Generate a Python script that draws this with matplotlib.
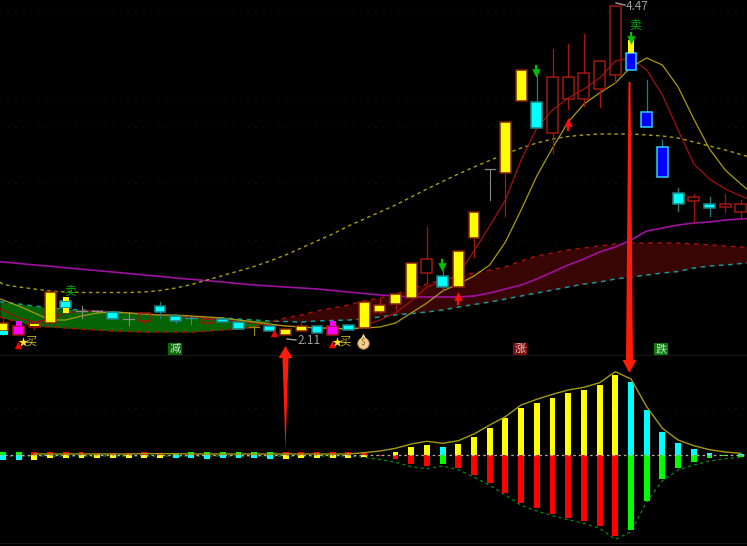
import matplotlib
matplotlib.use('Agg')
import matplotlib.pyplot as plt
import numpy as np

plt.rcParams['font.family'] = ['Noto Sans CJK SC', 'DejaVu Sans']

# все значения - строки пикселей верхней панели
body_top = [323, 326, 323, 292, 301, 311, 311, 312, 319, 313, 306, 316, 318, 319, 319, 322, 327, 326, 329, 326,
            326, 326, 325, 302, 305, 294, 263, 259, 276, 251, 212, 169, 122, 70, 102, 77, 77, 73, 61, 6,
            53, 112, 147, 193, 197, 204, 204, 204]
body_bot = [331, 335, 327, 323, 308, 312, 312, 319, 320, 321, 312, 321, 319, 323, 322, 329, 328, 331, 335, 331,
            333, 335, 330, 328, 312, 304, 298, 273, 287, 287, 238, 170, 173, 101, 128, 133, 99, 99, 89, 75,
            70, 127, 177, 204, 201, 208, 207, 212]
wick_hi = [318, 326, 323, 292, 297, 306, 310, 312, 313, 313, 302, 316, 316, 319, 319, 322, 326, 326, 329, 322,
           326, 321, 325, 302, 299, 294, 263, 227, 270, 251, 212, 169, 122, 70, 75, 49, 44, 34, 61, 6,
           40, 80, 140, 188, 194, 197, 194, 200]
wick_lo = [335, 335, 329, 323, 313, 318, 313, 319, 325, 323, 318, 323, 324, 326, 322, 329, 335, 331, 335, 331,
           333, 335, 330, 328, 313, 309, 298, 283, 290, 287, 257, 200, 216, 101, 128, 153, 109, 106, 107, 83,
           70, 127, 177, 211, 222, 216, 212, 219]
kinds = ['Y', 'M', 'H', 'Y', 'C', 'X', 'X', 'C', 'X', 'H', 'C', 'C', 'T', 'H', 'C', 'C', 'O', 'C', 'Y', 'Y',
         'C', 'M', 'C', 'Y', 'Y', 'Y', 'Y', 'H', 'C', 'Y', 'Y', 'X', 'Y', 'Y', 'C', 'H', 'H', 'H', 'H', 'H',
         'B', 'B', 'B', 'C', 'H', 'C', 'H', 'H']

# первая точка - левый край окна, дальше бары с нулевого
ma_purple = [261.8, 262, 263.4, 265, 266.3, 267.8, 269.2, 270.6, 272, 273.5, 275, 276.4, 278, 279.3, 280.7, 282,
             283.6, 285, 286, 287, 288, 289, 290.5, 292, 293.5, 295, 296, 297, 297, 297, 297, 296, 293, 289, 285,
             279, 272, 265, 259, 252, 247, 240, 231, 228, 225, 223, 222, 220, 219, 218]
ma_long = [282, 284.5, 287, 289, 291, 292, 292.5, 292.5, 292.5, 292.5, 292, 290.5, 288, 284.5, 280, 275.5, 271,
           266.5, 261, 255, 248, 241, 234, 226, 219, 212, 205, 197, 189, 181.5, 174, 167, 160.5, 154, 148, 143,
           139, 136.5, 135, 134, 134, 134, 135, 136, 138, 142, 146, 150, 154.5, 159]
ma_red = [309, 310, 318, 322, 319, 313, 311, 311, 312, 313, 314, 315, 316, 317, 318, 319.5, 321, 323, 325, 326,
          327, 328, 329, 329, 326, 320, 313, 301, 287, 281, 275, 251, 226, 200, 160, 128, 110, 98, 89, 78, 61,
          58, 70, 95, 130, 164, 179, 189, 196, 202]
ma_yellow = [299, 300, 306, 313, 320, 320, 316, 313, 312, 313, 314, 315, 315, 316, 317, 318, 320, 322, 324, 326,
             327, 328, 328, 329, 328, 327, 323, 313, 303, 291, 284, 276, 265, 242, 210, 176, 148, 122, 104, 93,
             83, 67, 58, 65, 87, 119, 149, 170, 184, 197]
band_cyan = [301.5, 302, 304, 306, 308, 309, 310, 311, 312, 313, 314, 315, 316, 317, 317.5, 318, 319, 320, 321,
             321.5, 322, 321, 320.5, 320, 319, 317, 315, 313.5, 312, 310, 307, 304.5, 302, 299, 296, 293, 290,
             287, 284, 282, 279, 277, 275, 273, 271.5, 268, 266, 265, 263.5, 262]
band_red = [317, 318, 322, 326, 327, 328, 329, 330, 331, 331.5, 332, 332, 332, 332, 331, 330, 329, 327, 322, 318,
            315, 311, 308, 305, 301, 298, 294, 289, 284, 280, 276, 273, 270, 267, 261, 256, 253, 250, 248, 246,
            244, 243, 243, 243, 243, 244, 245, 246, 247, 247.5]

# нижняя панель, пиксели от нулевой линии
macd_up = [-5, -5, -5, -3, -3, -3, -3, -3, -3, -2.5, -3, -3, -3, -4, -3, -3, -3, -4, -4, -2.5, -2.5, -2.5, -2.5,
           -2, 0, 3.3, 8.3, 9.7, 8, 11.3, 18.3, 27.3, 36.7, 47, 51.7, 57.3, 62, 65.3, 70, 80, 73, 45.3, 23, 12,
           5.7, 2.3, 0, 1.3]
macd_dn = [3.3, 3, 3.5, 3.5, 3, 3, 2.5, 2.5, 2.5, 3, 2.5, 1.5, 3, 3, 3, 3.5, 3.5, 3.5, 3.5, 3, 3, 3, 3, 2, -1,
           -4, -9.3, -11, -9.3, -12.7, -19.7, -27.7, -38, -48.3, -53, -58.7, -62.7, -66, -71.3, -80.7, -74.7,
           -46, -24.3, -13.3, -7, -3, -1.3, -2.3]
macd_cold = [1, 1, 0, 0, 0, 0, 0, 0, 0, 0, 0, 1, 1, 1, 1, 1, 1, 1, 0, 0, 0, 0, 0, 0, 0,
             0, 0, 0, 1, 0, 0, 0, 0, 0, 0, 0, 0, 0, 0, 0, 1, 1, 1, 1, 1, 1, 1, 1]
env_top = [1, 1, 1, 1, 1, 1, 1, 1, 1, 1.3, 1.3, 1.3, 1, 1, 1, 1, 1, 1, 1, 1, 1, 1, 1, 2.3, 4,
           6.7, 11, 13.7, 11.7, 14.3, 21, 30, 38.3, 50, 55.7, 60.7, 65, 67.7, 72.3, 83.3, 76, 48.3, 26.7, 15,
           9.3, 5.3, 3, 1.7]
env_bot = [1, 1, 1, 1, 1, 1, 1, 1, 1, 1, 1, 1, 1, 1, 1, 1, 1, 1, 1, 1, 1, 1, 1, 2.3, 4.5,
           7.3, 11.7, 13.7, 11, 14.7, 22.3, 30.3, 40, 50.3, 56, 60.7, 64.7, 68.3, 73.3, 84.3, 76.7, 46.7, 25.7,
           15, 10, 6, 3.7, 2.3]

STEP = 15.7
ZERO = 455
RED_EDGE = '#a01810'
bars = np.arange(len(body_top))
lines_x = np.arange(len(ma_red)) - 3 / STEP
lines_x[1:] = np.arange(len(ma_red) - 1)


def px(x):
    return (x - 3) / STEP


fig = plt.figure(figsize=(7.47, 5.46), dpi=100, facecolor='black')
ax = fig.add_axes([0, 0, 1, 1], facecolor='black')
ax.set_xlim(-3 / STEP, 744 / STEP)
ax.set_ylim(546, 0)
ax.axis('off')

# слабая сетка и разделители
for row in [12, 98, 127, 183, 240, 408]:
    ax.axhline(row, color='#202020', lw=0.6, ls=(0, (1, 8)), zorder=1)
ax.axhline(355, color='#161616', lw=0.8, zorder=1)
ax.axhline(543, color='#161616', lw=0.8, zorder=1)

# лента
cy = np.array(band_cyan)
rd = np.array(band_red)
ax.fill_between(lines_x, cy, rd, where=rd >= cy, interpolate=True, color='#056405', lw=0, zorder=2)
ax.fill_between(lines_x, cy, rd, where=rd <= cy, interpolate=True, color='#380404', lw=0, zorder=2)
ax.plot(lines_x, band_cyan, color='#119a9a', lw=1.1, ls=(0, (3, 3)), zorder=3)
ax.plot(lines_x, band_red, color='#a80c0c', lw=1.1, ls=(0, (3, 3)), zorder=3)

ax.plot(lines_x, ma_purple, color='#a010a0', lw=1.2, zorder=4)
ax.plot(lines_x, ma_long, color='#a8a010', lw=1.0, ls=(0, (2.5, 2.5)), zorder=4)
ax.plot(lines_x, ma_red, color='#a01010', lw=0.9, zorder=4)
ax.plot(lines_x, ma_yellow, color='#a89a10', lw=0.9, zorder=4)

# свечи
face = {'Y': '#ffff00', 'C': '#00ffff', 'B': '#0000ff', 'M': '#ff00ff', 'H': 'none'}
edge = {'Y': '#8a2010', 'C': '#208080', 'B': '#30d0ff', 'M': '#a01810', 'H': RED_EDGE}
wick = {'Y': RED_EDGE, 'C': '#208080', 'B': '#208080', 'M': '#ff00ff', 'H': RED_EDGE}
cross = {'X': '#8a8a8a', 'T': '#1a9a9a', 'O': '#9a8a10'}
for i, k in enumerate(kinds):
    if k in cross:
        ax.plot([i, i], [wick_hi[i], wick_lo[i]], color=cross[k], lw=0.8, zorder=5)
        ax.plot([i - 0.33, i + 0.33], [body_top[i], body_top[i]], color=cross[k], lw=0.9, zorder=5)
        continue
    ax.plot([i, i], [wick_hi[i], body_top[i]], color=wick[k], lw=0.9, zorder=5)
    ax.plot([i, i], [body_bot[i], wick_lo[i]], color=wick[k], lw=0.9, zorder=5)
    ax.bar(i, body_bot[i] - body_top[i], bottom=body_top[i], width=0.7, color=face[k],
           edgecolor=edge[k], lw=1.1, zorder=6)

# вставки поверх свечей
stub_x = [0, 4, 4, 1, 21, 40, 2]
stub_top = [331, 297, 308, 321, 321, 40, 324]
stub_bot = [335, 301, 313, 326, 326, 53, 326]
stub_col = ['#00ffff', '#ffff00', '#ffff00', '#ff00ff', '#ff00ff', '#ffff00', '#ffff00']
stub_w = [0.7, 0.35, 0.35, 0.4, 0.4, 0.4, 0.6]
ax.bar(stub_x, np.array(stub_bot) - np.array(stub_top), bottom=stub_top, width=stub_w, color=stub_col,
       lw=0, zorder=7)

# нижняя панель
up_col = ['#00ffff' if c else '#ffff00' for c in macd_cold]
dn_col = ['#00ff00' if c else '#ff0000' for c in macd_cold]
ax.bar(bars, -np.array(macd_up), bottom=ZERO, width=0.38, color=up_col, lw=0, zorder=5)
ax.bar(bars, -np.array(macd_dn), bottom=ZERO, width=0.38, color=dn_col, lw=0, zorder=5)
ax.plot([-1, 48], [ZERO, ZERO], color='#b0b0b0', lw=0.9, ls=(0, (2, 2.5)), zorder=6)
ax.plot(bars[2:], ZERO - np.array(env_top[2:]), color='#a09a10', lw=1.0, zorder=7)
ax.plot(bars, ZERO + np.array(env_bot), color='#0a8a0a', lw=0.9, ls=(0, (2.5, 2.5)), zorder=4)

# длинные стрелки
up_x = [285.5, 278.5, 282.5, 285.5, 288.5, 292.5]
up_y = [346, 358, 358, 450, 358, 358]
down_x = [629.3, 622.5, 626, 628.5, 630.5, 633, 636.5]
down_y = [373, 360, 360, 82, 82, 360, 360]
ax.fill(px(np.array(up_x)), up_y, color='#ff1a0a', lw=0, zorder=9)
ax.fill(px(np.array(down_x)), down_y, color='#ff1a0a', lw=0, zorder=9)

# маленькие стрелки сигналов
for x, y in [(442, 265), (536, 71), (631, 38)]:
    ax.plot([px(x), px(x)], [y - 5, y + 1], color='#00c000', lw=1.6, zorder=8)
    ax.scatter(px(x), y + 2, marker='v', s=38, color='#00c000', lw=0, zorder=8)
for x, y in [(458, 299), (568, 125)]:
    ax.plot([px(x), px(x)], [y - 2, y + 5], color='#ff1010', lw=1.6, zorder=8)
    ax.scatter(px(x), y - 3, marker='^', s=38, color='#ff1010', lw=0, zorder=8)

# значки
for x, y in [(18, 345), (274, 333), (332, 344)]:
    ax.scatter(px(x), y, marker='^', s=28, color='#ff0000', lw=0, zorder=8)
for x in [23, 337]:
    ax.scatter(px(x), 342, marker='*', s=55, color='#ffe020', lw=0, zorder=8)
for x in [31, 345]:
    ax.text(px(x), 341.5, '买', color='#d8c020', fontsize=8, ha='center', va='center', zorder=8)
ax.text(px(70), 291, '卖', color='#00b000', fontsize=8.5, ha='center', va='center', zorder=8)
ax.text(px(635), 25, '卖', color='#00b000', fontsize=8.5, ha='center', va='center', zorder=8)

for x, label, bg, fg in [(175, '减', '#0a6a0a', '#c0e8c0'), (520, '涨', '#7a1010', '#f0c0c0'),
                         (661, '跌', '#0a7a0a', '#c0e8c0')]:
    ax.text(px(x), 349, label, color=fg, fontsize=8, ha='center', va='center', zorder=8,
            bbox=dict(boxstyle='square,pad=0.12', fc=bg, ec='none'))

ax.scatter(px(363), 343, s=70, color='#f0d090', edgecolors='#a07030', lw=0.6, zorder=8)
ax.scatter(px(363), 336, marker='^', s=18, color='#f0d090', lw=0, zorder=8)
ax.text(px(363), 343, '$', color='#906020', fontsize=6, ha='center', va='center', zorder=9)

ax.text(px(297), 341, '2.11', color='#a0a0a0', fontsize=8.5, ha='left', va='center', zorder=8)
ax.plot([px(287), px(296)], [339, 340], color='#a0a0a0', lw=1.0, zorder=8)
ax.text(px(626), 6, '4.47', color='#a0a0a0', fontsize=8.5, ha='left', va='center', zorder=8)
ax.plot([px(616), px(625)], [3, 5], color='#a0a0a0', lw=1.0, zorder=8)

fig.savefig('out.png', dpi=100, facecolor='black')
